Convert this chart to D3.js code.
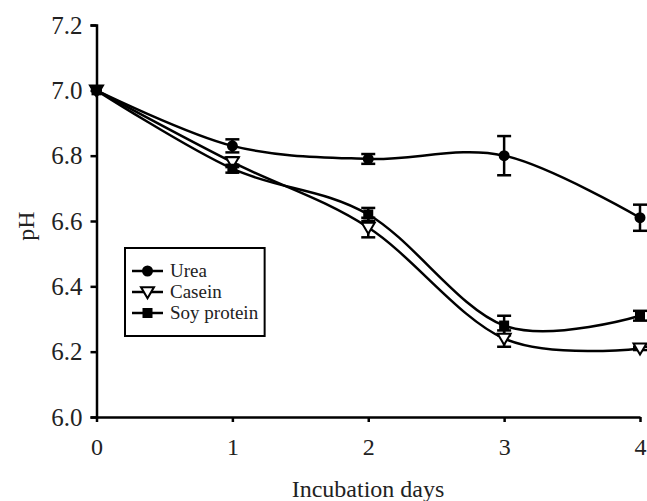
<!DOCTYPE html>
<html>
<head>
<meta charset="utf-8">
<script src="https://cdn.jsdelivr.net/npm/d3@7"></script>
<style>
  html, body { margin: 0; padding: 0; background: #fff; }
  svg { display: block; font-family: "Liberation Serif", "Times New Roman", serif; }
</style>
</head>
<body>
<svg id="chart" width="647" height="501"></svg>
<script>
// === DATA ===
const days = [0, 1, 2, 3, 4];
const ureaPH   = [7.00, 6.83, 6.79, 6.80, 6.61];
const ureaErr  = [0, 0.02, 0.015, 0.06, 0.04];
const caseinPH  = [7.00, 6.78, 6.58, 6.24, 6.21];
const caseinErr = [0, 0.015, 0.03, 0.025, 0.005];
const soyPH  = [7.00, 6.76, 6.62, 6.28, 6.31];
const soyErr = [0, 0.012, 0.02, 0.03, 0.015];
const yTicks = [6.0, 6.2, 6.4, 6.6, 6.8, 7.0, 7.2];
const xTicks = [0, 1, 2, 3, 4];

const series = [
  { name: "Urea", values: ureaPH, errs: ureaErr, marker: "circle" },
  { name: "Casein", values: caseinPH, errs: caseinErr, marker: "triangle" },
  { name: "Soy protein", values: soyPH, errs: soyErr, marker: "square" }
];

// === LAYOUT ===
const svg = d3.select("#chart");
const x = d3.scaleLinear().domain([0, 4]).range([96.5, 640]);
const y = d3.scaleLinear().domain([6.0, 7.2]).range([417, 25]);

// axes
const yAxis = svg.append("g")
  .attr("transform", `translate(${x(0)},0)`)
  .call(d3.axisLeft(y).tickValues(yTicks).tickFormat(d3.format(".1f")).tickSize(6).tickPadding(8));
yAxis.select(".domain").attr("stroke", "#000").attr("stroke-width", 2.5);
yAxis.selectAll(".tick line").attr("stroke", "#000").attr("stroke-width", 2.5);
yAxis.selectAll(".tick text")
  .attr("fill", "#222")
  .style("font-size", "25px")
  .style("font-family", "Liberation Serif, serif");

const xAxis = svg.append("g")
  .attr("transform", `translate(0,${y(6.0)})`)
  .call(d3.axisBottom(x).tickValues(xTicks).tickFormat(d3.format("d")).tickSize(5).tickSizeOuter(0).tickPadding(16));
xAxis.select(".domain").attr("stroke", "#000").attr("stroke-width", 2.5);
xAxis.selectAll(".tick line").attr("stroke", "#000").attr("stroke-width", 2.5);
xAxis.selectAll(".tick text")
  .attr("fill", "#222")
  .style("font-size", "24px")
  .style("font-family", "Liberation Serif, serif");

// axis titles
svg.append("text")
  .attr("x", 368).attr("y", 497)
  .attr("text-anchor", "middle")
  .attr("fill", "#222")
  .style("font-size", "24px")
  .text("Incubation days");

svg.append("text")
  .attr("transform", "translate(34,226) rotate(-90)")
  .attr("text-anchor", "middle")
  .attr("fill", "#222")
  .style("font-size", "24px")
  .text("pH");

// === LINES ===
const line = d3.line()
  .x((d, i) => x(days[i]))
  .y(d => y(d))
  .curve(d3.curveCardinal.tension(0));

series.forEach(s => {
  svg.append("path")
    .datum(s.values)
    .attr("d", line)
    .attr("fill", "none")
    .attr("stroke", "#000")
    .attr("stroke-width", 2.5);
});

// === ERROR BARS ===
series.forEach(s => {
  const g = svg.append("g");
  s.values.forEach((v, i) => {
    const e = s.errs[i];
    if (!e) return;
    const cx = x(days[i]);
    g.append("line")
      .attr("x1", cx).attr("x2", cx)
      .attr("y1", y(v - e)).attr("y2", y(v + e))
      .attr("stroke", "#000").attr("stroke-width", 2.5);
    [v - e, v + e].forEach(val => {
      g.append("line")
        .attr("x1", cx - 7).attr("x2", cx + 7)
        .attr("y1", y(val)).attr("y2", y(val))
        .attr("stroke", "#000").attr("stroke-width", 2.5);
    });
  });
});

// === MARKERS ===
function drawMarker(g, type, cx, cy) {
  if (type === "circle") {
    g.append("circle").attr("cx", cx).attr("cy", cy).attr("r", 5.5).attr("fill", "#000");
  } else if (type === "triangle") {
    const s = 6.5;
    g.append("path")
      .attr("d", `M${cx - s},${cy - s * 0.75}L${cx + s},${cy - s * 0.75}L${cx},${cy + s * 0.95}Z`)
      .attr("fill", "#fff").attr("stroke", "#000").attr("stroke-width", 2);
  } else {
    g.append("rect").attr("x", cx - 5).attr("y", cy - 5).attr("width", 10).attr("height", 10).attr("fill", "#000");
  }
}

series.forEach(s => {
  const g = svg.append("g");
  s.values.forEach((v, i) => drawMarker(g, s.marker, x(days[i]), y(v)));
});

// === LEGEND ===
const legend = svg.append("g");
const legendBox = legend.append("rect")
  .attr("x", 125).attr("y", 248)
  .attr("fill", "#fff").attr("stroke", "#000").attr("stroke-width", 2);
const rowY = [271, 292, 313];
let maxRight = 0;
series.forEach((s, i) => {
  const ly = rowY[i];
  legend.append("line")
    .attr("x1", 132).attr("x2", 163).attr("y1", ly).attr("y2", ly)
    .attr("stroke", "#000").attr("stroke-width", 2.5);
  drawMarker(legend, s.marker, 147.5, ly);
  const t = legend.append("text")
    .attr("x", 170).attr("y", ly + 6)
    .attr("fill", "#222")
    .style("font-size", "19px")
    .text(s.name);
  maxRight = Math.max(maxRight, t.node().getBBox().x + t.node().getBBox().width);
});
legendBox.attr("width", maxRight + 6 - 125).attr("height", 88);
</script>
</body>
</html>
